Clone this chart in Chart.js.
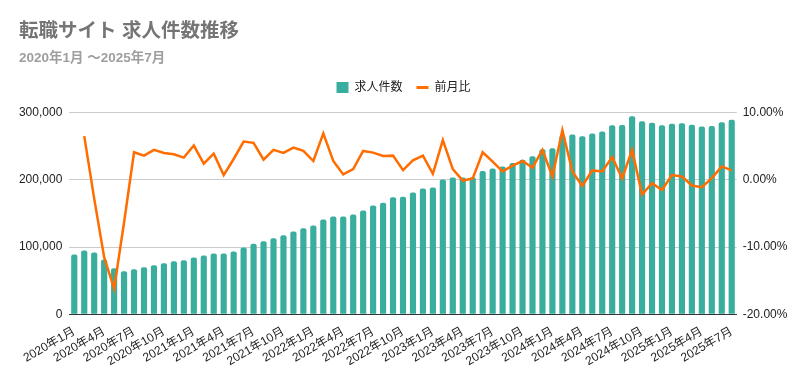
<!DOCTYPE html>
<html>
<head>
<meta charset="utf-8">
<script src="https://cdn.jsdelivr.net/npm/chart.js@4"></script>
<style>
  html, body { margin: 0; padding: 0; background: #ffffff; }
  #wrap { width: 808px; height: 379px; position: relative; }
</style>
</head>
<body>
<div id="wrap"><canvas id="c" width="808" height="379"></canvas></div>
<script>
// ---- Data ----
const years = [2020, 2021, 2022, 2023, 2024, 2025];
const categories = [];
for (const y of years) {
  for (let m = 1; m <= 12; m++) {
    if (y === 2025 && m > 7) break;
    categories.push(y + '年' + m + '月');
  }
}

const jobCounts = [
  89000, 95000, 92000, 81500, 68500, 64000, 67000, 70000, 73000, 76000, 79000, 80500,
  84500, 87500, 90500, 90500, 93500, 99500, 105000, 108500, 113000, 117500, 123000, 128000,
  132000, 141000, 145500, 145500, 148500, 154500, 162000, 166000, 174000, 175000, 181000, 187000,
  188500, 200500, 203500, 203300, 203700, 213000, 217000, 220000, 225000, 230000, 235000, 245500,
  247000, 265500, 267500, 265000, 269000, 272000, 281000, 281500, 294500, 287000, 285000, 281000,
  283500, 284000, 282000, 279500, 280000, 285500, 289500
];

const momPercent = [
  null, 6.5, -2.8, -11.5, -16.2, -6.3, 4.1, 3.6, 4.45, 4.0, 3.8, 3.3,
  5.1, 2.4, 3.9, 0.7, 3.1, 5.7, 5.5, 3.0, 4.45, 4.0, 4.8, 4.3,
  2.8, 6.9, 2.8, 0.8, 1.6, 4.3, 4.05, 3.55, 3.6, 1.45, 2.9, 3.6,
  0.9, 5.9, 1.6, -0.1, 0.2, 4.1, 2.7, 1.25, 2.1, 2.8, 1.8, 4.45,
  0.5, 7.4, 1.25, -0.9, 1.4, 1.25, 3.4, 0.2, 4.45, -2.2, -0.5, -1.5,
  0.7, 0.5, -0.85, -1.1, 0.25, 2.0, 1.4
];

const leftTicks = [0, 100000, 200000, 300000];
const rightTicks = [-20, -10, 0, 10];

// ---- Styles ----
const FONT = "'Liberation Sans', 'Noto Sans CJK JP', sans-serif";
const TEAL = '#3aae9e';
const ORANGE = '#ff6d00';

const legendSpacer = {
  id: 'legendSpacer',
  beforeLayout(chart) {
    const lg = chart.legend;
    if (lg && !lg._spaced) {
      const orig = lg.fit;
      lg.fit = function () { orig.call(this); this.height += 9; };
      lg._spaced = true;
    }
  },
  afterLayout(chart) {
    const lg = chart.legend;
    if (lg) {
      lg.left -= 10;
      lg.right -= 10;
      if (lg.legendHitBoxes) lg.legendHitBoxes.forEach(h => { h.left -= 10; });
    }
  }
};

new Chart(document.getElementById('c'), {
  data: {
    labels: categories,
    datasets: [
      {
        type: 'bar',
        label: '求人件数',
        data: jobCounts,
        backgroundColor: TEAL,
        borderRadius: { topLeft: 2, topRight: 2 },
        borderSkipped: 'bottom',
        barPercentage: 0.62,
        categoryPercentage: 1.0,
        yAxisID: 'y',
        order: 2
      },
      {
        type: 'line',
        label: '前月比',
        data: momPercent,
        borderColor: ORANGE,
        backgroundColor: ORANGE,
        borderWidth: 2.5,
        pointRadius: 0,
        tension: 0,
        yAxisID: 'y1',
        order: 1
      }
    ]
  },
  plugins: [legendSpacer],
  options: {
    responsive: false,
    animation: false,
    devicePixelRatio: 1,
    layout: { padding: { left: 19, right: 0, top: 0, bottom: 0 } },
    plugins: {
      title: {
        display: true,
        text: '転職サイト 求人件数推移',
        align: 'start',
        color: '#757575',
        font: { family: FONT, size: 19.5, weight: 'bold' },
        padding: { top: 20, bottom: 0 }
      },
      subtitle: {
        display: true,
        text: '2020年1月 ～2025年7月',
        align: 'start',
        color: '#9e9e9e',
        font: { family: FONT, size: 13.5, weight: 'bold' },
        padding: { top: 7, bottom: 1 }
      },
      legend: {
        display: true,
        position: 'top',
        align: 'center',
        labels: {
          color: '#222222',
          font: { family: FONT, size: 12 },
          usePointStyle: true,
          boxHeight: 11,
          pointStyleWidth: 12,
          padding: 14,
          sort: (a, b) => a.datasetIndex - b.datasetIndex,
          generateLabels: (chart) => {
            const items = Chart.defaults.plugins.legend.labels.generateLabels(chart);
            items.forEach(it => {
              if (it.datasetIndex === 0) {
                it.pointStyle = 'rect';
                it.lineWidth = 0;
                it.fillStyle = TEAL;
                it.strokeStyle = TEAL;
              } else {
                it.pointStyle = 'line';
                it.lineWidth = 3;
                it.strokeStyle = ORANGE;
                it.fillStyle = ORANGE;
              }
            });
            return items;
          }
        }
      },
      tooltip: { enabled: false }
    },
    scales: {
      x: {
        grid: { display: false },
        border: { display: true, color: '#333333', width: 1 },
        ticks: {
          autoSkip: false,
          maxRotation: 30,
          minRotation: 30,
          color: '#222222',
          font: { family: FONT, size: 12 },
          padding: 2,
          callback: function (value, index) {
            return index % 3 === 0 ? categories[index] : '';
          }
        },
        afterFit: (s) => { s.height = 64.7; }
      },
      y: {
        position: 'left',
        min: 0,
        max: 300000,
        afterBuildTicks: (s) => { s.ticks = leftTicks.map(v => ({ value: v })); },
        grid: { color: '#cccccc', drawTicks: false },
        border: { display: false },
        ticks: {
          color: '#222222',
          font: { family: FONT, size: 12 },
          padding: 7,
          callback: (v) => v.toLocaleString('en-US')
        },
        afterFit: (s) => { s.width = 50.3; }
      },
      y1: {
        position: 'right',
        min: -20,
        max: 10,
        afterBuildTicks: (s) => { s.ticks = rightTicks.map(v => ({ value: v })); },
        grid: { display: false, drawTicks: false },
        border: { display: false },
        ticks: {
          color: '#222222',
          font: { family: FONT, size: 12 },
          padding: 6,
          callback: (v) => v.toFixed(2) + '%'
        },
        afterFit: (s) => { s.width = 71.3; }
      }
    }
  }
});
</script>
</body>
</html>
